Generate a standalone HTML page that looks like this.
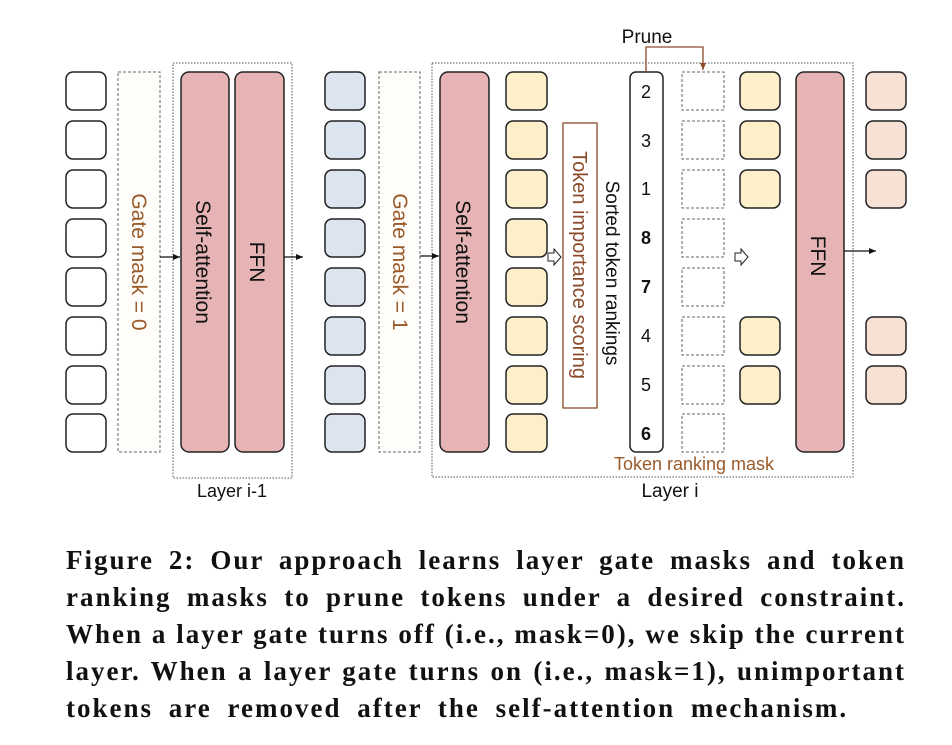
<!DOCTYPE html>
<html><head><meta charset="utf-8"><style>
html,body{margin:0;padding:0;background:#fff;width:952px;height:745px;overflow:hidden;position:relative}
svg{position:absolute;left:0;top:0}
.cap{position:absolute;left:66px;width:840px;font-family:"Liberation Serif",serif;font-weight:bold;font-size:27px;letter-spacing:2px;color:#111;text-align:justify;text-align-last:justify;white-space:nowrap;line-height:30px}
</style></head><body>
<svg width="952" height="520" viewBox="0 0 952 520" font-family="Liberation Sans, sans-serif">
<defs>
<marker id="ah" markerWidth="8" markerHeight="8" refX="7" refY="4" orient="auto" markerUnits="userSpaceOnUse"><path d="M0,1 L7,4 L0,7 z" fill="#111"/></marker>
<marker id="ahb" markerWidth="8" markerHeight="8" refX="7" refY="4" orient="auto" markerUnits="userSpaceOnUse"><path d="M0,1 L7,4 L0,7 z" fill="#8b4a2a"/></marker>
</defs>
<g stroke="#222" stroke-width="1.5">
<g fill="#fff">
<rect x="66" y="72" width="40" height="38" rx="7"/><rect x="66" y="121" width="40" height="38" rx="7"/><rect x="66" y="170" width="40" height="38" rx="7"/><rect x="66" y="219" width="40" height="38" rx="7"/><rect x="66" y="268" width="40" height="38" rx="7"/><rect x="66" y="317" width="40" height="38" rx="7"/><rect x="66" y="366" width="40" height="38" rx="7"/><rect x="66" y="414" width="40" height="38" rx="7"/>
</g>
<g fill="#dbe4ef">
<rect x="325" y="72" width="40" height="38" rx="7"/><rect x="325" y="121" width="40" height="38" rx="7"/><rect x="325" y="170" width="40" height="38" rx="7"/><rect x="325" y="219" width="40" height="38" rx="7"/><rect x="325" y="268" width="40" height="38" rx="7"/><rect x="325" y="317" width="40" height="38" rx="7"/><rect x="325" y="366" width="40" height="38" rx="7"/><rect x="325" y="414" width="40" height="38" rx="7"/>
</g>
<g fill="#fcefca">
<rect x="506" y="72" width="41" height="38" rx="7"/><rect x="506" y="121" width="41" height="38" rx="7"/><rect x="506" y="170" width="41" height="38" rx="7"/><rect x="506" y="219" width="41" height="38" rx="7"/><rect x="506" y="268" width="41" height="38" rx="7"/><rect x="506" y="317" width="41" height="38" rx="7"/><rect x="506" y="366" width="41" height="38" rx="7"/><rect x="506" y="414" width="41" height="38" rx="7"/>
<rect x="740" y="72" width="40" height="38" rx="7"/><rect x="740" y="121" width="40" height="38" rx="7"/><rect x="740" y="170" width="40" height="38" rx="7"/><rect x="740" y="317" width="40" height="38" rx="7"/><rect x="740" y="366" width="40" height="38" rx="7"/>
</g>
<g fill="#f7e0d4">
<rect x="866" y="72" width="40" height="38" rx="7"/><rect x="866" y="121" width="40" height="38" rx="7"/><rect x="866" y="170" width="40" height="38" rx="7"/><rect x="866" y="317" width="40" height="38" rx="7"/><rect x="866" y="366" width="40" height="38" rx="7"/>
</g>
<g fill="#e6b4b4">
<rect x="181" y="72" width="48" height="380" rx="8"/><rect x="235" y="72" width="49" height="380" rx="8"/>
<rect x="440" y="72" width="49" height="380" rx="8"/><rect x="796" y="72" width="48" height="380" rx="8"/>
</g>
<rect x="630" y="72" width="33" height="380" rx="6" fill="#fff"/>
</g>
<g fill="none" stroke="#666" stroke-width="1" stroke-dasharray="3,2">
<rect x="118" y="72" width="42" height="380" fill="#fffdf9"/>
<rect x="379" y="72" width="41" height="380" fill="#fffdf9"/>
<rect x="682" y="72" width="42" height="38"/><rect x="682" y="121" width="42" height="38"/><rect x="682" y="170" width="42" height="38"/><rect x="682" y="219" width="42" height="38"/><rect x="682" y="268" width="42" height="38"/><rect x="682" y="317" width="42" height="38"/><rect x="682" y="366" width="42" height="38"/><rect x="682" y="414" width="42" height="38"/>
</g>
<g fill="none" stroke="#555" stroke-width="1" stroke-dasharray="1.5,1.5">
<rect x="173" y="63" width="119" height="415"/>
<rect x="432" y="63" width="421" height="414"/>
</g>
<rect x="563" y="123" width="34" height="285" fill="#fff" stroke="#8b4a2a" stroke-width="1.3"/>
<g stroke="#111" stroke-width="1.3" marker-end="url(#ah)">
<line x1="160" y1="257" x2="180" y2="257"/><line x1="284" y1="257" x2="303" y2="257"/><line x1="420" y1="256" x2="439" y2="256"/><line x1="844" y1="251" x2="876" y2="251"/>
</g>
<path d="M548,253 h6 v-4 l7,8 l-7,8 v-4 h-6z" fill="#fff" stroke="#222" stroke-width="1"/>
<path d="M735,253 h6 v-4 l7,8 l-7,8 v-4 h-6z" fill="#fff" stroke="#222" stroke-width="1"/>
<path d="M646,72 V47 H703 V70" fill="none" stroke="#8b4a2a" stroke-width="1.3" marker-end="url(#ahb)"/>
<g font-size="21" fill="#111">
<text x="647" y="43" text-anchor="middle" font-size="19">Prune</text>
<text transform="translate(196,262) rotate(90)" text-anchor="middle">Self-attention</text>
<text transform="translate(250,262) rotate(90)" text-anchor="middle">FFN</text>
<text transform="translate(456,262) rotate(90)" text-anchor="middle">Self-attention</text>
<text transform="translate(811,256) rotate(90)" text-anchor="middle">FFN</text>
<text transform="translate(132,262) rotate(90)" text-anchor="middle" fill="#9a5a2a">Gate mask = 0</text>
<text transform="translate(393,262) rotate(90)" text-anchor="middle" fill="#9a5a2a">Gate mask = 1</text>
<text transform="translate(573,265) rotate(90)" text-anchor="middle" fill="#8b4a2a" font-size="20">Token importance scoring</text>
<text transform="translate(606,273) rotate(90)" text-anchor="middle" font-size="19">Sorted token rankings</text>
<text x="232" y="497" text-anchor="middle" font-size="18">Layer i-1</text>
<text x="670" y="497" text-anchor="middle" font-size="19">Layer i</text>
<text x="694" y="470" text-anchor="middle" font-size="18" fill="#9a5a2a">Token ranking mask</text>
</g>
<g font-size="18" text-anchor="middle" fill="#111">
<text x="646" y="98">2</text><text x="646" y="147">3</text><text x="646" y="195">1</text>
<text x="646" y="244" font-weight="bold">8</text><text x="646" y="293" font-weight="bold">7</text>
<text x="646" y="342">4</text><text x="646" y="391">5</text><text x="646" y="440" font-weight="bold">6</text>
</g>
</svg>
<div class="cap" style="top:545px">Figure 2: Our approach learns layer gate masks and token</div>
<div class="cap" style="top:582px">ranking masks to prune tokens under a desired constraint.</div>
<div class="cap" style="top:619px">When a layer gate turns off (i.e., mask=0), we skip the current</div>
<div class="cap" style="top:656px">layer. When a layer gate turns on (i.e., mask=1), unimportant</div>
<div class="cap" style="top:693px;text-align-last:left;word-spacing:7px">tokens are removed after the self-attention mechanism.</div>
</body></html>
